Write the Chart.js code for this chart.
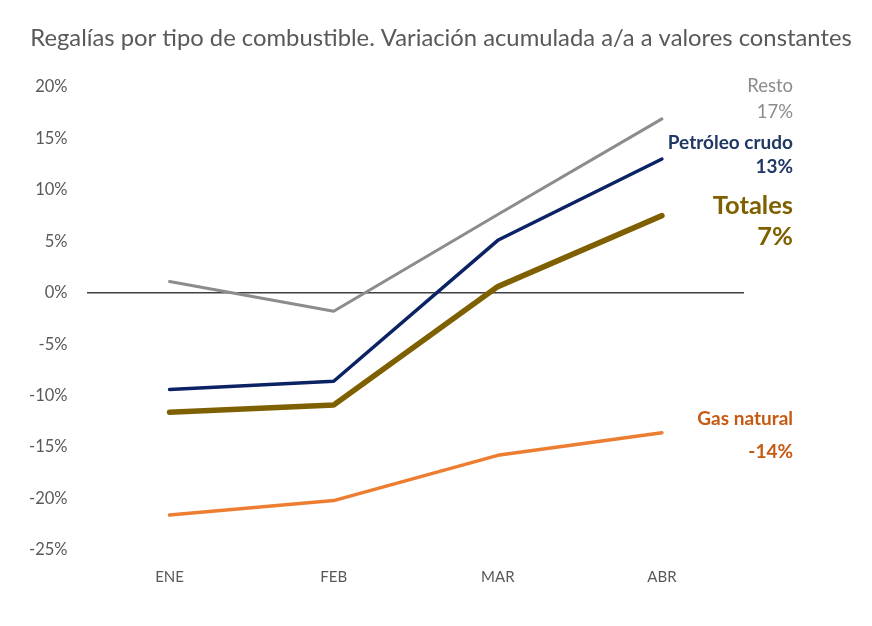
<!DOCTYPE html>
<html>
<head>
<meta charset="utf-8">
<script src="https://cdn.jsdelivr.net/npm/chart.js@4.4.1/dist/chart.umd.min.js"></script>
<style>
  html, body { margin: 0; padding: 0; background: #ffffff; }
  #wrap { width: 872px; height: 626px; }
</style>
</head>
<body>
<div id="wrap"><canvas id="chart" width="872" height="626"></canvas></div>
<script>
// Datos del gráfico
const meses = ['ENE', 'FEB', 'MAR', 'ABR'];
const resto = [1.1, -1.8, 7.6, 16.9];
const petroleoCrudo = [-9.4, -8.6, 5.1, 13.0];
const totales = [-11.6, -10.9, 0.6, 7.5];
const gasNatural = [-21.6, -20.2, -15.8, -13.6];

const nombresSeries = ['Resto', 'Petróleo crudo', 'Totales', 'Gas natural'];
const etiquetasFinales = ['17%', '13%', '7%', '-14%'];
const ticksY = [20, 15, 10, 5, 0, -5, -10, -15, -20, -25];
const titulo = 'Regalías por tipo de combustible. Variación acumulada a/a a valores constantes';

const fuente = 'Lato, "Open Sans", sans-serif';

// Título y etiquetas a la derecha de cada serie
const etiquetasPlugin = {
    id: 'etiquetas',
    afterDraw(chart) {
        const ctx = chart.ctx;
        const x = chart.chartArea.right + 49;
        const y = chart.scales.y;
        const estilos = [
            { color: '#8c8c8c', peso: 'normal', tam: 18.5, y1: y.getPixelForValue(20.1), y2: y.getPixelForValue(17.6) },
            { color: '#203864', peso: 'bold', tam: 19, y1: y.getPixelForValue(14.6), y2: y.getPixelForValue(12.2) },
            { color: '#7f6000', peso: 'bold', tam: 25.5, y1: y.getPixelForValue(8.5), y2: y.getPixelForValue(5.4) },
            { color: '#c55a11', peso: 'bold', tam: 19, y1: y.getPixelForValue(-12.25), y2: y.getPixelForValue(-15.5) }
        ];
        ctx.save();
        ctx.textBaseline = 'middle';
        ctx.textAlign = 'center';
        ctx.fillStyle = '#595959';
        ctx.font = 'normal 23.8px ' + fuente;
        ctx.fillText(titulo, 441, 38);
        ctx.textAlign = 'right';
        estilos.forEach((e, i) => {
            ctx.fillStyle = e.color;
            ctx.font = e.peso + ' ' + e.tam + 'px ' + fuente;
            ctx.fillText(nombresSeries[i], x, e.y1);
            ctx.fillText(etiquetasFinales[i], x, e.y2);
        });
        ctx.restore();
    }
};

new Chart(document.getElementById('chart'), {
    type: 'line',
    data: {
        labels: meses,
        datasets: [
            { label: nombresSeries[0], data: resto, borderColor: '#8c8c8c', borderWidth: 3 },
            { label: nombresSeries[1], data: petroleoCrudo, borderColor: '#0b2265', borderWidth: 3.5 },
            { label: nombresSeries[2], data: totales, borderColor: '#7f6000', borderWidth: 5.5 },
            { label: nombresSeries[3], data: gasNatural, borderColor: '#ed7d31', borderWidth: 3.5 }
        ]
    },
    options: {
        responsive: false,
        animation: false,
        layout: { padding: { left: 9, right: 128, top: 87, bottom: 30 } },
        elements: {
            point: { radius: 0 },
            line: { tension: 0, borderCapStyle: 'round', borderJoinStyle: 'round' }
        },
        plugins: {
            legend: { display: false },
            tooltip: { enabled: false },
            title: { display: false }
        },
        scales: {
            x: {
                offset: true,
                grid: { display: false },
                border: { display: false },
                ticks: { color: '#595959', font: { family: fuente, size: 15 }, padding: 10 }
            },
            y: {
                min: -25,
                max: 20,
                afterBuildTicks(scale) {
                    scale.ticks = ticksY.map(v => ({ value: v }));
                },
                border: { display: false },
                grid: {
                    drawTicks: false,
                    lineWidth: 1.5,
                    color: ctx => ctx.tick && ctx.tick.value === 0 ? '#404040' : 'rgba(0,0,0,0)'
                },
                ticks: {
                    color: '#595959',
                    font: { family: fuente, size: 16.5 },
                    padding: 20,
                    callback: v => v + '%'
                }
            }
        }
    },
    plugins: [etiquetasPlugin]
});
</script>
</body>
</html>
